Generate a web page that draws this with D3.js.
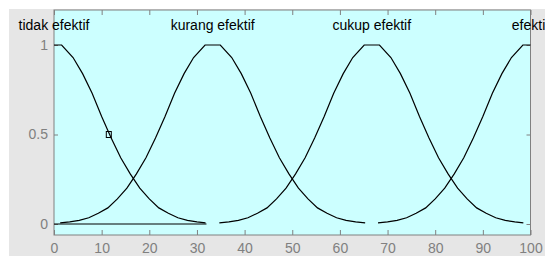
<!DOCTYPE html>
<html>
<head>
<meta charset="utf-8">
<script src="https://cdnjs.cloudflare.com/ajax/libs/d3/7.8.5/d3.min.js"></script>
<style>
  body { margin: 0; background: #fff; }
  svg { display: block; font-family: "Liberation Sans", Arial, sans-serif; }
</style>
</head>
<body>
<script>
//Membership function names
var mfNames = ["tidak efektif", "kurang efektif", "cukup efektif", "efektif"];
//Peak (label) positions of each function
var mfCenters = [0, 33.3, 66.7, 100];

//Points
var tidakX = [0, 1.6, 4, 6, 8, 10, 12, 14, 16, 18, 20, 22, 24, 26, 28, 30, 31.8];
var tidakY = [1, 1, 0.93, 0.84, 0.73, 0.6, 0.48, 0.37, 0.28, 0.2, 0.14, 0.09, 0.06, 0.035, 0.02, 0.012, 0.006];

var kurangX = [1.3, 3.3, 5.3, 7.3, 9.3, 11.3, 13.3, 15.3, 17.3, 19.3, 21.3, 23.3, 25.3, 27.3, 29.3, 31.7,
               34.9, 37.3, 39.3, 41.3, 43.3, 45.3, 47.3, 49.3, 51.3, 53.3, 55.3, 57.3, 59.3, 61.3, 63.3, 65.3];
var kurangY = [0.006, 0.012, 0.02, 0.035, 0.06, 0.09, 0.14, 0.2, 0.28, 0.37, 0.48, 0.6, 0.73, 0.84, 0.93, 1,
               1, 0.93, 0.84, 0.73, 0.6, 0.48, 0.37, 0.28, 0.2, 0.14, 0.09, 0.06, 0.035, 0.02, 0.012, 0.006];

var cukupX = [34.7, 36.7, 38.7, 40.7, 42.7, 44.7, 46.7, 48.7, 50.7, 52.7, 54.7, 56.7, 58.7, 60.7, 62.7, 65.1,
              68.3, 70.7, 72.7, 74.7, 76.7, 78.7, 80.7, 82.7, 84.7, 86.7, 88.7, 90.7, 92.7, 94.7, 96.7, 98.5];
var cukupY = [0.006, 0.012, 0.02, 0.035, 0.06, 0.09, 0.14, 0.2, 0.28, 0.37, 0.48, 0.6, 0.73, 0.84, 0.93, 1,
              1, 0.93, 0.84, 0.73, 0.6, 0.48, 0.37, 0.28, 0.2, 0.14, 0.09, 0.06, 0.035, 0.02, 0.012, 0.006];

var efektifX = [68, 70, 72, 74, 76, 78, 80, 82, 84, 86, 88, 90, 92, 94, 96, 98.4, 100];
var efektifY = [0.006, 0.012, 0.02, 0.035, 0.06, 0.09, 0.14, 0.2, 0.28, 0.37, 0.48, 0.6, 0.73, 0.84, 0.93, 1, 1];

//Flat line lying on zero
var zeroX = [0, 32];
var zeroY = [0, 0];

//Small square marker
var markerX = [11.5];
var markerY = [0.5];

//Tick labels
var xTicks = [0, 10, 20, 30, 40, 50, 60, 70, 80, 90, 100];
var yTicks = [0, 0.5, 1];

//Define size and plot box
var width = 545, height = 256;
var box = {left: 54, right: 530.5, top: 10, bottom: 235};

//Define SVG
var svg = d3.select("body")
    .append("svg")
    .attr("width", width)
    .attr("height", height);

//Window background (gray, with a white edge top and left)
svg.append("rect")
    .attr("width", width).attr("height", height)
    .attr("fill", "#fff");
svg.append("rect")
    .attr("x", 9).attr("y", 9)
    .attr("width", width - 9).attr("height", height - 9)
    .attr("fill", "#e6e6e6");

//Axes area
svg.append("rect")
    .attr("x", box.left).attr("y", box.top)
    .attr("width", box.right - box.left).attr("height", box.bottom - box.top)
    .attr("fill", "#ccffff");

//Scales
var x = d3.scaleLinear().domain([0, 100]).range([box.left, box.right]);
var y = d3.scaleLinear().domain([0, 1]).range([224, 45]);

//Axes, ticks pointing inward
function styleAxis(g) {
  g.select(".domain").remove();
  g.selectAll(".tick line").attr("stroke", "#808080");
  g.selectAll(".tick text")
      .attr("fill", "#808080")
      .style("font-size", "14px")
      .style("font-family", "Liberation Sans, Arial, sans-serif");
}

svg.append("g")
    .attr("transform", "translate(0," + box.bottom + ")")
    .call(d3.axisBottom(x).tickValues(xTicks).tickSize(-5).tickPadding(8))
    .call(styleAxis);

svg.append("g")
    .attr("transform", "translate(0," + box.top + ")")
    .call(d3.axisTop(x).tickValues(xTicks).tickSize(-5).tickFormat(""))
    .call(styleAxis);

svg.append("g")
    .attr("transform", "translate(" + box.left + ",0)")
    .call(d3.axisLeft(y).tickValues(yTicks).tickSize(-4).tickPadding(6).tickFormat(d3.format("")))
    .call(styleAxis);

svg.append("g")
    .attr("transform", "translate(" + box.right + ",0)")
    .call(d3.axisRight(y).tickValues(yTicks).tickSize(-4).tickFormat(""))
    .call(styleAxis);

//Box border
svg.append("rect")
    .attr("x", box.left).attr("y", box.top)
    .attr("width", box.right - box.left).attr("height", box.bottom - box.top)
    .attr("fill", "none")
    .attr("stroke", "#808080");

//Curves
var curves = [
  {x: zeroX, y: zeroY},
  {x: tidakX, y: tidakY},
  {x: kurangX, y: kurangY},
  {x: cukupX, y: cukupY},
  {x: efektifX, y: efektifY}
];

var line = d3.line()
    .x(function(d) { return x(d[0]); })
    .y(function(d) { return y(d[1]); });

svg.append("g")
    .attr("class", "curves")
    .selectAll("path")
    .data(curves)
    .enter().append("path")
    .attr("d", function(c) { return line(d3.zip(c.x, c.y)); })
    .attr("fill", "none")
    .attr("stroke", "#000")
    .attr("stroke-width", 1.2);

//Marker
svg.selectAll(".marker")
    .data(d3.zip(markerX, markerY))
    .enter().append("rect")
    .attr("class", "marker")
    .attr("x", function(d) { return x(d[0]) - 2.5; })
    .attr("y", function(d) { return y(d[1]) - 3; })
    .attr("width", 5)
    .attr("height", 6)
    .attr("fill", "none")
    .attr("stroke", "#000")
    .attr("stroke-width", 1);

//Function names above peaks
svg.selectAll(".mflabel")
    .data(mfNames)
    .enter().append("text")
    .attr("class", "mflabel")
    .attr("x", function(d, i) { return x(mfCenters[i]); })
    .attr("y", 30)
    .attr("text-anchor", "middle")
    .style("font-size", "14px")
    .attr("fill", "#000")
    .text(function(d) { return d; });
</script>
</body>
</html>
